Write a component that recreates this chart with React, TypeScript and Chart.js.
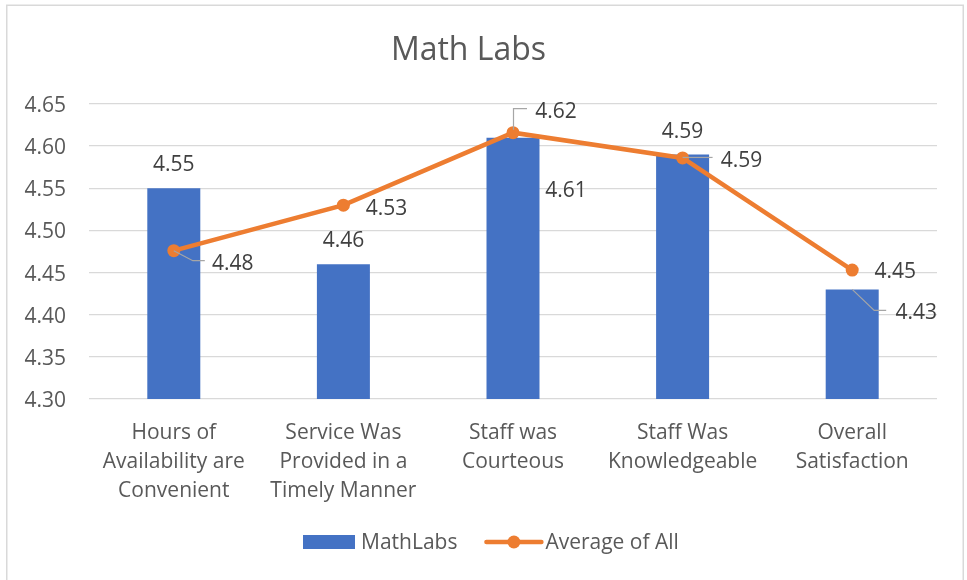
import React, { useEffect, useRef } from "react";
import { Chart, registerables } from "chart.js";

Chart.register(...registerables);

const categories: string[][] = [
  ["Hours of", "Availability are", "Convenient"],
  ["Service Was", "Provided in a", "Timely Manner"],
  ["Staff was", "Courteous"],
  ["Staff Was", "Knowledgeable"],
  ["Overall", "Satisfaction"],
];
const mathLabs: number[] = [4.55, 4.46, 4.61, 4.59, 4.43];
const averageOfAll: number[] = [4.476, 4.53, 4.616, 4.586, 4.453];
const yMin = 4.3;
const yMax = 4.65;
const yStep = 0.05;

const BLUE = "#4472C4";
const ORANGE = "#ED7D31";
const GRID = "#D9D9D9";
const TEXT = "#595959";
const LABEL = "#404040";
const FONT = "'Open Sans', 'DejaVu Sans', sans-serif";

// label placement (pixel offsets from the element anchor) and leader lines
const barLabelStyle = [
  { dx: 0, dy: -23 },
  { dx: 0, dy: -23 },
  { dx: 53, dy: 53 },
  { dx: 0, dy: -23 },
  { dx: 64, dy: 24, leader: [[0, 0], [22, 21], [34, 21]] },
];
const lineLabelStyle = [
  { dx: 59, dy: 13, leader: [[0, 0], [19, 10], [31, 10]] },
  { dx: 43, dy: 4 },
  { dx: 43, dy: -21, leader: [[0.5, -3], [0.5, -24], [14, -24]] },
  { dx: 59, dy: 3, leader: [[0, -0.5], [30, -0.5]] },
  { dx: 43, dy: 2 },
];

const dataLabelsPlugin = {
  id: "dataLabels",
  afterDatasetsDraw(chart: any) {
    const ctx = chart.ctx;
    ctx.save();
    ctx.font = `21px ${FONT}`;
    ctx.textAlign = "center";
    ctx.textBaseline = "middle";
    chart.data.datasets.forEach((ds: any, di: number) => {
      const meta = chart.getDatasetMeta(di);
      const styles = ds.type === "line" ? lineLabelStyle : barLabelStyle;
      meta.data.forEach((el: any, i: number) => {
        const s: any = styles[i];
        const x = el.x;
        const y = el.y;
        if (s.leader) {
          ctx.strokeStyle = "#A6A6A6";
          ctx.lineWidth = 1.2;
          ctx.beginPath();
          s.leader.forEach((p: number[], k: number) => {
            if (k === 0) ctx.moveTo(x + p[0], y + p[1]);
            else ctx.lineTo(x + p[0], y + p[1]);
          });
          ctx.stroke();
        }
        ctx.fillStyle = LABEL;
        ctx.fillText(Number(ds.data[i]).toFixed(2), x + s.dx, y + s.dy);
      });
    });
    ctx.restore();
  },
};

const frameAndLegendPlugin = {
  id: "frameLegend",
  beforeDraw(chart: any) {
    const ctx = chart.ctx;
    ctx.save();
    ctx.fillStyle = "#FFFFFF";
    ctx.fillRect(0, 0, chart.width, chart.height);
    ctx.strokeStyle = GRID;
    ctx.lineWidth = 1.5;
    ctx.strokeRect(6.75, 5.25, 956.5, chart.height + 10);
    ctx.restore();
  },
  afterDraw(chart: any) {
    const ctx = chart.ctx;
    ctx.save();
    ctx.font = `21px ${FONT}`;
    ctx.textBaseline = "middle";
    ctx.textAlign = "left";
    const cy = 542;
    let x = 303;
    const dsBar = chart.data.datasets[0];
    const dsLine = chart.data.datasets[1];
    // bar item
    ctx.fillStyle = dsBar.backgroundColor;
    ctx.fillRect(x, cy - 7, 52, 14);
    x += 58;
    ctx.fillStyle = TEXT;
    ctx.fillText(dsBar.label, x, cy + 1);
    x += ctx.measureText(dsBar.label).width + 29;
    // line item
    ctx.strokeStyle = dsLine.borderColor;
    ctx.lineWidth = 4.5;
    ctx.lineCap = "round";
    ctx.beginPath();
    ctx.moveTo(x, cy);
    ctx.lineTo(x + 55, cy);
    ctx.stroke();
    ctx.fillStyle = dsLine.borderColor;
    ctx.beginPath();
    ctx.arc(x + 27.5, cy, 6.5, 0, Math.PI * 2);
    ctx.fill();
    x += 59;
    ctx.fillStyle = TEXT;
    ctx.fillText(dsLine.label, x, cy + 1);
    ctx.restore();
  },
};

export default function App() {
  const canvasRef = useRef<HTMLCanvasElement | null>(null);

  useEffect(() => {
    if (!canvasRef.current) return;
    const chart = new Chart(canvasRef.current, {
      type: "bar",
      data: {
        labels: categories as any,
        datasets: [
          {
            type: "bar",
            label: "MathLabs",
            data: mathLabs,
            backgroundColor: BLUE,
            barPercentage: 0.3125,
            categoryPercentage: 1,
            order: 1,
          } as any,
          {
            type: "line",
            label: "Average of All",
            data: averageOfAll,
            borderColor: ORANGE,
            backgroundColor: ORANGE,
            borderWidth: 4.5,
            pointRadius: 6.5,
            pointBorderWidth: 0,
            pointBackgroundColor: ORANGE,
            tension: 0,
            order: 0,
          } as any,
        ],
      },
      options: {
        responsive: false,
        animation: false,
        devicePixelRatio: 1,
        layout: { padding: { top: 0, right: 30, bottom: 78, left: 0 } },
        plugins: {
          legend: { display: false },
          tooltip: { enabled: false },
          title: {
            display: true,
            text: "Math Labs",
            color: TEXT,
            font: { family: FONT, size: 32, weight: "normal", lineHeight: 1.2 },
            padding: { top: 32, bottom: 33.6 },
          },
        },
        scales: {
          x: {
            grid: { display: false, drawTicks: false },
            border: { display: false },
            ticks: {
              color: TEXT,
              font: { family: FONT, size: 21, lineHeight: 29 / 21 },
              padding: 20,
              autoSkip: false,
              maxRotation: 0,
              minRotation: 0,
            },
            afterFit(scale: any) {
              scale.height = 103;
            },
          },
          y: {
            min: yMin,
            max: yMax,
            grid: { color: GRID, lineWidth: 1.3, drawTicks: false },
            border: { display: false },
            ticks: {
              stepSize: yStep,
              color: TEXT,
              font: { family: FONT, size: 21 },
              padding: 23,
              labelOffset: 2,
              callback: (v: any) => Number(v).toFixed(2),
            },
            afterFit(scale: any) {
              scale.width = 89;
            },
          },
        },
      },
      plugins: [frameAndLegendPlugin, dataLabelsPlugin],
    });
    return () => chart.destroy();
  }, []);

  return (
    <div style={{ position: "absolute", left: 0, top: 0, width: 967, height: 580 }}>
      <canvas ref={canvasRef} width={967} height={580} style={{ display: "block" }} />
    </div>
  );
}
